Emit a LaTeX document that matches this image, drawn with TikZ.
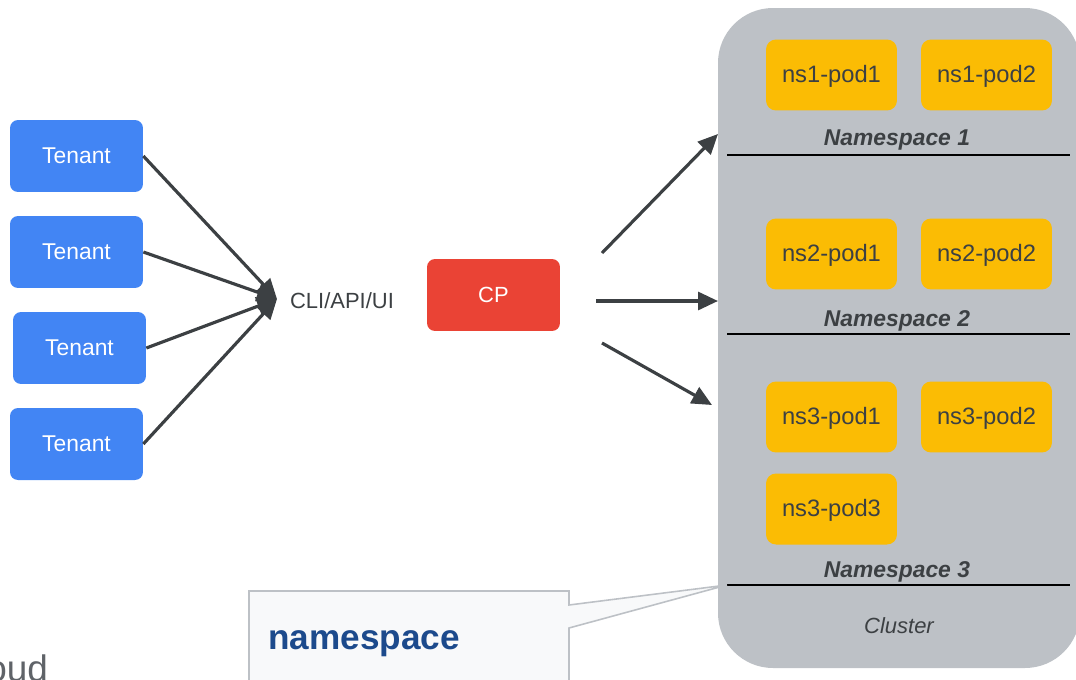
\documentclass[tikz,border=0pt]{standalone}
\usepackage{fontspec}
\setmainfont{Liberation Sans}
\usetikzlibrary{calc,positioning,arrows.meta}
\definecolor{tenantblue}{HTML}{4285F4}
\definecolor{cpred}{HTML}{EA4335}
\definecolor{podyellow}{HTML}{FBBC04}
\definecolor{clustergray}{HTML}{BDC1C6}
\definecolor{inkgray}{HTML}{3C4043}
\definecolor{calloutfill}{HTML}{F8F9FA}
\definecolor{calloutblue}{HTML}{1C4A8C}
\definecolor{titlegray}{HTML}{5F6368}
\begin{document}
\begin{tikzpicture}[x=0.02cm,y=-0.02cm,inner sep=0.4mm,
  tenant/.style={fill=tenantblue,rounded corners=0.16cm,minimum width=2.66cm,minimum height=1.44cm,text=white,font=\fontsize{13pt}{15pt}\selectfont},
  pod/.style={fill=podyellow,rounded corners=0.2cm,minimum width=2.62cm,minimum height=1.42cm,text=inkgray,text height=1.7ex,text depth=0.1ex,font=\fontsize{13.5pt}{15pt}\selectfont},
  nslabel/.style={text=inkgray,font=\fontsize{13pt}{15pt}\selectfont\bfseries\itshape},
  nsline/.style={line width=1.2pt,black},
  link/.style={line width=1.8pt,inkgray,-{Triangle[length=0.4cm,width=0.36cm]}}]
\useasboundingbox (0,0) rectangle (1076,680);
\node[text=titlegray,font=\fontsize{21pt}{24pt}\selectfont,anchor=base west] (cloud) at (-16,681) {oud};
\node[tenant] (t1) at (76.5,156) {Tenant};
\node[tenant] (t2) at (76.5,252) {Tenant};
\node[tenant] (t3) at (79.5,348) {Tenant};
\node[tenant] (t4) at (76.5,444) {Tenant};
\coordinate (hub) at (277,299);
\node[text=inkgray,font=\fontsize{12.5pt}{14pt}\selectfont] (cli) at (342,301) {CLI/API/UI};
\node[fill=cpred,rounded corners=0.16cm,minimum width=2.66cm,minimum height=1.44cm,text=white,font=\fontsize{12.5pt}{14pt}\selectfont] (cp) at (493.5,295) {CP};
\draw[link] (t1.east) -- (hub);
\draw[link] (t2.east) -- (hub);
\draw[link] (t3.east) -- (hub);
\draw[link] (t4.east) -- (hub);
\fill[clustergray,rounded corners=1.1cm] (718,8) rectangle (1080,668);
\node[pod] (p11) at (831.5,75) {ns1-pod1};
\node[pod] (p12) at (986.5,75) {ns1-pod2};
\node[pod] (p21) at (831.5,254) {ns2-pod1};
\node[pod] (p22) at (986.5,254) {ns2-pod2};
\node[pod] (p31) at (831.5,417) {ns3-pod1};
\node[pod] (p32) at (986.5,417) {ns3-pod2};
\node[pod] (p33) at (831.5,509) {ns3-pod3};
\node[nslabel] (ns1) at (897,140) {Namespace 1};
\node[nslabel] (ns2) at (897,321) {Namespace 2};
\node[nslabel] (ns3) at (897,572) {Namespace 3};
\draw[nsline] (727,155) coordinate (l1a) -- (1070,155) coordinate (l1b);
\draw[nsline] (727,334) coordinate (l2a) -- (1070,334) coordinate (l2b);
\draw[nsline] (727,585) coordinate (l3a) -- (1070,585) coordinate (l3b);
\node[text=inkgray,font=\fontsize{12.5pt}{14pt}\selectfont\itshape] (cluster) at (899,626) {Cluster};
\coordinate (o1) at (602,253);
\coordinate (o2) at (596,301);
\coordinate (o3) at (602,343);
\coordinate (e1) at (718,134);
\coordinate (e2) at (718,301);
\coordinate (e3) at (712,405);
\draw[link] (o1) -- (e1);
\draw[link] (o2) -- (e2);
\draw[link] (o3) -- (e3);
\filldraw[fill=calloutfill,draw=clustergray,line width=0.9pt] (249,591) -- (569,591) -- (569,605) -- (l3a) -- (569,628) -- (569,700) -- (249,700) -- cycle;
\node[text=calloutblue,font=\fontsize{20pt}{24pt}\selectfont\bfseries,anchor=west] (callout) at (266,644) {namespace};
\end{tikzpicture}
\end{document}
